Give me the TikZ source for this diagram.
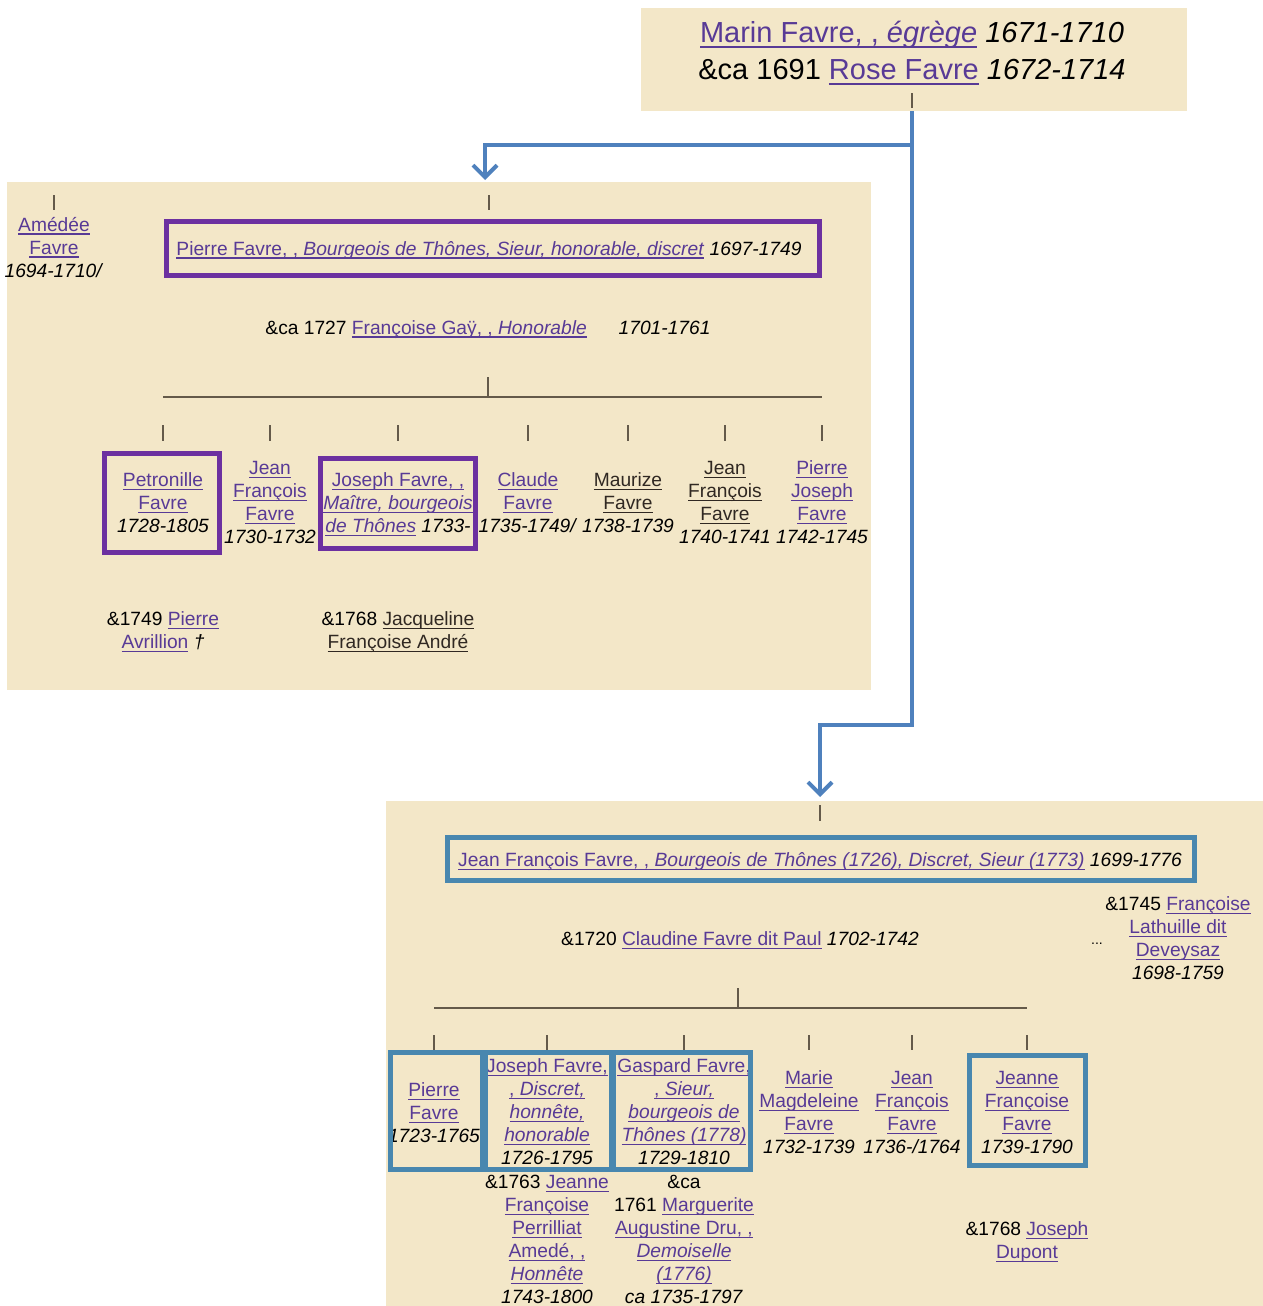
\documentclass[tikz,border=0pt]{standalone}
\usepackage{fontspec}
\setmainfont{Liberation Sans}
\usetikzlibrary{arrows.meta,fit}
\definecolor{paper}{RGB}{243,231,200}
\definecolor{lk}{RGB}{88,58,150}
\definecolor{lkd}{RGB}{48,40,34}
\definecolor{pbox}{RGB}{108,48,160}
\definecolor{bbox}{RGB}{72,135,175}
\definecolor{arrblue}{RGB}{79,129,189}
\definecolor{treec}{RGB}{100,90,74}
\newcommand\ulbox[2]{\textcolor{#1}{\setbox0\hbox{#2}\rlap{\vrule height -0.13em depth 0.2em width \wd0}\box0}}
\newcommand\lnk[1]{\ulbox{lk}{#1}}
\newcommand\lnkd[1]{\ulbox{lkd}{#1}}
\tikzset{
  txt/.style={font=\fontsize{9.6}{11.5}\selectfont, align=center, inner sep=0pt, anchor=base, text=black},
  toptxt/.style={font=\fontsize{14.5}{18.5}\selectfont, align=center, inner sep=0pt, anchor=base, text=black},
  panel/.style={fill=paper, draw=none, inner sep=0pt},
  pframe/.style={draw=pbox, line width=2.5pt, inner sep=0pt},
  bframe/.style={draw=bbox, line width=2.5pt, inner sep=0pt},
  tree/.style={draw=treec, line width=1pt},
  flow/.style={draw=arrblue, line width=2pt, -{Straight Barb[length=6pt,width=12pt]}},
}
\begin{document}
\begin{tikzpicture}[x=0.5pt,y=-0.5pt]
\useasboundingbox (0,0) rectangle (1263,1306);
% panels
\node[panel, fit={(641,8) (1187,111)}] (P0) {};
\node[panel, fit={(7,182) (871,690)}] (P1) {};
\node[panel, fit={(386,801) (1263,1306)}] (P2) {};

% top couple (anchor = baseline of last line)
\node[toptxt] (marin) at (912,79) {\lnk{Marin Favre, , \textit{égrège}} \textit{1671-1710}\\ \&ca 1691 \lnk{Rose Favre} \textit{1672-1714}};
\coordinate (t0) at (912,93);
\draw[tree] (t0) -- ++(0,15);

% flow arrows
\coordinate (j1) at (912,145);
\coordinate (tipA) at (485,180);
\coordinate (j2) at (820,725);
\coordinate (tipB) at (820,797);
\draw[flow] (P0.south -| t0) -- (j1) -| (tipA);
\draw[flow] (j1) -- (j1 |- j2) -- (j2) -- (tipB);

% ---------- panel 1 ----------
\coordinate (a1) at (0,195);
\node[txt] (ame) at (54,277) {\lnk{Amédée}\\\lnk{Favre}\\\textit{1694-1710/}};
\draw[tree] (ame |- a1) -- ++(0,15);
\node[txt] (pierre) at (489,255) {\lnk{Pierre Favre, , \textit{Bourgeois de Thônes, Sieur, honorable, discret}} \textit{1697-1749}};
\draw[tree] (pierre |- a1) -- ++(0,15);
\node[pframe, fit={(166,221) (819,275)}] (pierreB) {};
\node[txt] (gay) at (488,334) {\&ca 1727 \lnk{Françoise Gaÿ, , \textit{Honorable}}\hspace{16pt}\textit{1701-1761}};

\node[txt] (pet) at (163,532) {\lnk{Petronille}\\\lnk{Favre}\\\textit{1728-1805}};
\node[txt] (jf1) at (270,543) {\lnk{Jean}\\\lnk{François}\\\lnk{Favre}\\\textit{1730-1732}};
\node[txt] (jos) at (398,532) {\lnk{Joseph Favre, ,}\\\lnk{\textit{Maître, bourgeois}}\\\lnk{\textit{de Thônes}} \textit{1733-}};
\node[txt] (cla) at (528,532) {\lnk{Claude}\\\lnk{Favre}\\\textit{1735-1749/}};
\node[txt] (mau) at (628,532) {\lnkd{Maurize}\\\lnkd{Favre}\\\textit{1738-1739}};
\node[txt] (jf2) at (725,543) {\lnkd{Jean}\\\lnkd{François}\\\lnkd{Favre}\\\textit{1740-1741}};
\node[txt] (pj) at (822,543) {\lnk{Pierre}\\\lnk{Joseph}\\\lnk{Favre}\\\textit{1742-1745}};
\node[pframe, fit={(104.5,453.5) (219.5,552.5)}] (petB) {};
\node[pframe, fit={(320.5,458.5) (475.5,548.5)}] (josB) {};

\coordinate (f1) at (488,377);
\coordinate (bar1) at (0,397);
\coordinate (c1) at (0,425);
\draw[tree] (f1) -- (f1 |- bar1);
\draw[tree] (pet |- bar1) -- (pj |- bar1);
\foreach \n in {pet,jf1,jos,cla,mau,jf2,pj} \draw[tree] (\n |- c1) -- ++(0,16);

\node[txt] (avr) at (163,648) {\&1749 \lnk{Pierre}\\\lnk{Avrillion} \textit{†}};
\node[txt] (and) at (398,648) {\&1768 \lnkd{Jacqueline}\\\lnkd{Françoise André}};

% ---------- panel 2 ----------
\coordinate (a2) at (0,805);
\node[txt] (jfm) at (820,866) {\lnk{Jean François Favre, , \textit{Bourgeois de Thônes (1726), Discret, Sieur (1773)}} \textit{1699-1776}};
\draw[tree] (jfm |- a2) -- ++(0,16);
\node[bframe, fit={(447.5,837.5) (1194.5,880.5)}] (jfmB) {};
\node[txt] (clau) at (740,945) {\&1720 \lnk{Claudine Favre dit Paul} \textit{1702-1742}};
\node[txt, font=\fontsize{7}{8}\selectfont] (dots) at (1097,944) {...};
\node[txt] (lat) at (1178,979) {\&1745 \lnk{Françoise}\\\lnk{Lathuille dit}\\\lnk{Deveysaz}\\\textit{1698-1759}};

\node[txt] (pf) at (434,1142) {\lnk{Pierre}\\\lnk{Favre}\\\textit{1723-1765}};
\node[txt] (jo) at (547,1164) {\lnk{Joseph Favre,}\\\lnk{, \textit{Discret,}}\\\lnk{\textit{honnête,}}\\\lnk{\textit{honorable}}\\\textit{1726-1795}};
\node[txt] (ga) at (684,1164) {\lnk{Gaspard Favre,}\\\lnk{, \textit{Sieur,}}\\\lnk{\textit{bourgeois de}}\\\lnk{\textit{Thônes (1778)}}\\\textit{1729-1810}};
\node[txt] (mm) at (809,1153) {\lnk{Marie}\\\lnk{Magdeleine}\\\lnk{Favre}\\\textit{1732-1739}};
\node[txt] (jf3) at (912,1153) {\lnk{Jean}\\\lnk{François}\\\lnk{Favre}\\\textit{1736-/1764}};
\node[txt] (jn) at (1027,1153) {\lnk{Jeanne}\\\lnk{Françoise}\\\lnk{Favre}\\\textit{1739-1790}};
\node[bframe, fit={(390.5,1052) (482,1169)}] (pfB) {};
\node[bframe, fit={(485,1052) (611,1169)}] (joB) {};
\node[bframe, fit={(613.5,1052) (750,1169)}] (gaB) {};
\node[bframe, fit={(969.5,1055.5) (1085.5,1165.5)}] (jnB) {};

\coordinate (f2) at (738,988);
\coordinate (bar2) at (0,1008);
\coordinate (c2) at (0,1035);
\draw[tree] (f2) -- (f2 |- bar2);
\draw[tree] (pf |- bar2) -- (jn |- bar2);
\foreach \n in {pf,jo,ga,mm,jf3,jn} \draw[tree] (\n |- c2) -- ++(0,15);

\node[txt] (per) at (547,1303) {\&1763 \lnk{Jeanne}\\\lnk{Françoise}\\\lnk{Perrilliat}\\\lnk{Amedé, ,}\\\lnk{\textit{Honnête}}\\\textit{1743-1800}};
\node[txt] (dru) at (684,1303) {\&ca\\1761 \lnk{Marguerite}\\\lnk{Augustine Dru, ,}\\\lnk{\textit{Demoiselle}}\\\lnk{\textit{(1776)}}\\\textit{ca 1735-1797}};
\node[txt] (dup) at (1027,1258) {\&1768 \lnk{Joseph}\\\lnk{Dupont}};
\end{tikzpicture}
\end{document}
